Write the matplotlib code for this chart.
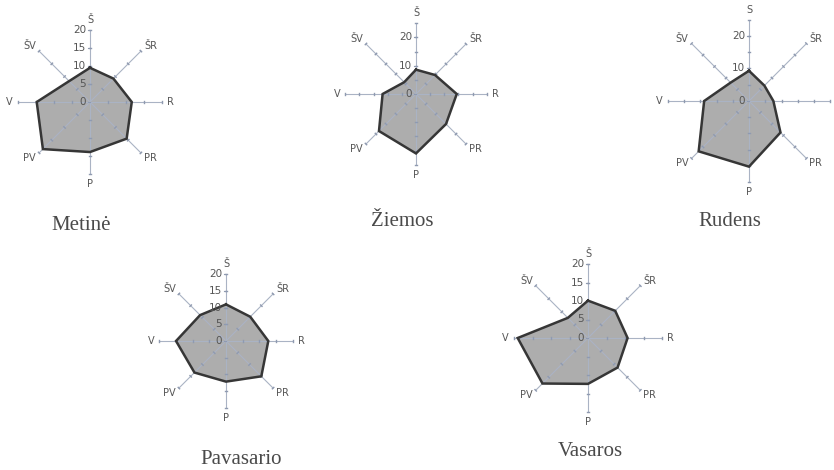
import numpy as np
import matplotlib.pyplot as plt

# vėjo kryptys, pradedant nuo šiaurės pagal laikrodžio rodyklę
kryptys = ['Š', 'ŠR', 'R', 'PR', 'P', 'PV', 'V', 'ŠV']
# rudens rožės R užrašas nebetelpa lape
kryptys_rudens = ['S', 'ŠR', None, 'PR', 'P', 'PV', 'V', 'ŠV']

# vėjo krypčių pasikartojimas, %
metine = [9.5, 9.2, 11.6, 14.4, 13.9, 18.5, 14.8, 8.2]
ziemos = [8.6, 9.5, 14.4, 15.0, 21.0, 18.5, 11.8, 5.9]
rudens = [9.3, 6.7, 7.5, 13.7, 20.2, 21.9, 13.8, 8.0]
pavasario = [11.0, 10.3, 12.7, 15.0, 12.2, 13.4, 15.0, 11.0]
vasaros = [10.1, 10.4, 10.7, 11.3, 12.4, 17.4, 19.0, 7.7]

W, H = 834, 470
fig = plt.figure(figsize=(W / 100, H / 100), dpi=100)

SPOKE = '#aab3c4'
TXT = '#555555'


def vejo_role(values, labels, cx, cy, ppu, rmax, ticks, step, title, tx, ty):
    half = 110
    ax = fig.add_axes([(cx - half) / W, 1 - (cy + half) / H, 2 * half / W, 2 * half / H])
    lim = half / ppu
    ax.set_xlim(-lim, lim)
    ax.set_ylim(-lim, lim)
    ax.axis('off')

    theta = np.deg2rad(np.arange(8) * 45)
    sx, sy = np.sin(theta), np.cos(theta)
    r = np.asarray(values)
    px, py = r * sx, r * sy

    ax.fill(px, py, facecolor='#adadad', edgecolor='none', zorder=1)

    # spinduliai su smulkiomis padalomis
    tk = 1.0 / ppu
    for i in range(8):
        ax.plot([0, rmax * sx[i]], [0, rmax * sy[i]], color=SPOKE, lw=0.8, zorder=2)
        for v in np.arange(step, rmax + 0.01, step):
            x0, y0 = v * sx[i], v * sy[i]
            ax.plot([x0 - tk * sy[i], x0 + tk * sy[i]], [y0 + tk * sx[i], y0 - tk * sx[i]],
                    color='#8f9ab0', lw=1.0, zorder=2)

    ax.plot(np.append(px, px[0]), np.append(py, py[0]), color='#363636', lw=1.8,
            solid_joinstyle='miter', zorder=3)

    # reikšmių ašis
    for v in ticks:
        ax.plot([-2.5 / ppu, 0], [v, v], color='#8f9ab0', lw=0.8, zorder=2)
        ax.text(-4 / ppu, v, str(v), ha='right', va='center', fontsize=7.5, color=TXT, zorder=4)

    # krypčių pavadinimai
    offs = [(0, 5, 'center', 'bottom'), (3, 0, 'left', 'bottom'), (5, 0, 'left', 'center'),
            (3, 0, 'left', 'top'), (0, -5, 'center', 'top'), (-3, 0, 'right', 'top'),
            (-5, 0, 'right', 'center'), (-3, 0, 'right', 'bottom')]
    for i, (dx, dy, ha, va) in enumerate(offs):
        if labels[i] is None:
            continue
        ax.text(rmax * sx[i] + dx / ppu, rmax * sy[i] + dy / ppu, labels[i],
                ha=ha, va=va, fontsize=7, color=TXT, zorder=4)

    fig.text(tx / W, 1 - ty / H, title, ha='center', va='center', fontsize=15,
             family='Liberation Serif', color='#4a4a4a')


vejo_role(metine, kryptys, 90, 102, 3.6, 20, [0, 5, 10, 15, 20], 5, 'Metinė', 81, 225)
vejo_role(ziemos, kryptys, 416, 94, 2.83, 25, [0, 10, 20], 5, 'Žiemos', 402, 222)
vejo_role(rudens, kryptys_rudens, 749, 101, 3.25, 25, [0, 10, 20], 5, 'Rudens', 730, 222)
vejo_role(pavasario, kryptys, 226, 341, 3.33, 20, [0, 5, 10, 15, 20], 5, 'Pavasario', 241, 460)
vejo_role(vasaros, kryptys, 588, 338, 3.7, 20, [0, 5, 10, 15, 20], 5, 'Vasaros', 590, 452)

fig.savefig('out.png', dpi=100)
